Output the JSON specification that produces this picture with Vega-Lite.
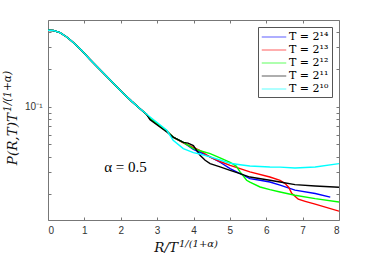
{
  "$schema": "https://vega.github.io/schema/vega-lite/v6.json",
  "width": 291,
  "height": 200,
  "autosize": {"type": "none"},
  "padding": {"left": 48, "top": 20, "right": 35, "bottom": 37},
  "background": "white",
  "config": {
    "view": {"stroke": "#777", "strokeWidth": 1},
    "axis": {"grid": false, "domainColor": "#777", "tickColor": "#777", "labelColor": "#333", "titleColor": "#111"}
  },
  "datasets": {
    "curves": [
      {"T": "T = 2¹⁴", "x": 0, "y": 0.4116}, {"T": "T = 2¹⁴", "x": 0.146, "y": 0.409}, {"T": "T = 2¹⁴", "x": 0.33, "y": 0.394}, {"T": "T = 2¹⁴", "x": 0.514, "y": 0.363}, {"T": "T = 2¹⁴", "x": 0.696, "y": 0.328}, {"T": "T = 2¹⁴", "x": 0.927, "y": 0.283}, {"T": "T = 2¹⁴", "x": 1.155, "y": 0.24}, {"T": "T = 2¹⁴", "x": 1.384, "y": 0.205}, {"T": "T = 2¹⁴", "x": 1.615, "y": 0.175}, {"T": "T = 2¹⁴", "x": 1.843, "y": 0.15}, {"T": "T = 2¹⁴", "x": 2.072, "y": 0.128}, {"T": "T = 2¹⁴", "x": 2.303, "y": 0.1107}, {"T": "T = 2¹⁴", "x": 2.531, "y": 0.0967}, {"T": "T = 2¹⁴", "x": 2.715, "y": 0.0868},
      {"T": "T = 2¹⁴", "x": 2.806, "y": 0.0805}, {"T": "T = 2¹⁴", "x": 3.266, "y": 0.064}, {"T": "T = 2¹⁴", "x": 3.44, "y": 0.0573}, {"T": "T = 2¹⁴", "x": 3.72, "y": 0.052}, {"T": "T = 2¹⁴", "x": 3.997, "y": 0.0457}, {"T": "T = 2¹⁴", "x": 4.18, "y": 0.0433}, {"T": "T = 2¹⁴", "x": 4.457, "y": 0.0397}, {"T": "T = 2¹⁴", "x": 4.73, "y": 0.036}, {"T": "T = 2¹⁴", "x": 5.007, "y": 0.032}, {"T": "T = 2¹⁴", "x": 5.28, "y": 0.0292}, {"T": "T = 2¹⁴", "x": 5.55, "y": 0.0266}, {"T": "T = 2¹⁴", "x": 5.83, "y": 0.0258}, {"T": "T = 2¹⁴", "x": 6.1, "y": 0.025}, {"T": "T = 2¹⁴", "x": 6.38, "y": 0.0236}, {"T": "T = 2¹⁴", "x": 6.79, "y": 0.0215}, {"T": "T = 2¹⁴", "x": 7.345, "y": 0.0202}, {"T": "T = 2¹⁴", "x": 7.76, "y": 0.0189},

      {"T": "T = 2¹³", "x": 0, "y": 0.4116}, {"T": "T = 2¹³", "x": 0.146, "y": 0.409}, {"T": "T = 2¹³", "x": 0.33, "y": 0.394}, {"T": "T = 2¹³", "x": 0.514, "y": 0.363}, {"T": "T = 2¹³", "x": 0.696, "y": 0.328}, {"T": "T = 2¹³", "x": 0.927, "y": 0.283}, {"T": "T = 2¹³", "x": 1.155, "y": 0.24}, {"T": "T = 2¹³", "x": 1.384, "y": 0.205}, {"T": "T = 2¹³", "x": 1.615, "y": 0.175}, {"T": "T = 2¹³", "x": 1.843, "y": 0.15}, {"T": "T = 2¹³", "x": 2.072, "y": 0.128}, {"T": "T = 2¹³", "x": 2.303, "y": 0.1107}, {"T": "T = 2¹³", "x": 2.531, "y": 0.0967}, {"T": "T = 2¹³", "x": 2.715, "y": 0.0868},
      {"T": "T = 2¹³", "x": 2.806, "y": 0.0805}, {"T": "T = 2¹³", "x": 3.266, "y": 0.064}, {"T": "T = 2¹³", "x": 3.44, "y": 0.0573}, {"T": "T = 2¹³", "x": 3.72, "y": 0.0515}, {"T": "T = 2¹³", "x": 3.997, "y": 0.0474}, {"T": "T = 2¹³", "x": 4.18, "y": 0.0447}, {"T": "T = 2¹³", "x": 4.457, "y": 0.0395}, {"T": "T = 2¹³", "x": 4.73, "y": 0.0365}, {"T": "T = 2¹³", "x": 5.007, "y": 0.034}, {"T": "T = 2¹³", "x": 5.28, "y": 0.032}, {"T": "T = 2¹³", "x": 5.55, "y": 0.0301}, {"T": "T = 2¹³", "x": 6.1, "y": 0.0274}, {"T": "T = 2¹³", "x": 6.38, "y": 0.0258}, {"T": "T = 2¹³", "x": 6.52, "y": 0.0243}, {"T": "T = 2¹³", "x": 6.62, "y": 0.0226}, {"T": "T = 2¹³", "x": 6.7, "y": 0.0203}, {"T": "T = 2¹³", "x": 6.79, "y": 0.0192}, {"T": "T = 2¹³", "x": 6.88, "y": 0.0182}, {"T": "T = 2¹³", "x": 7.07, "y": 0.0175}, {"T": "T = 2¹³", "x": 7.345, "y": 0.0166}, {"T": "T = 2¹³", "x": 8.0, "y": 0.0146},

      {"T": "T = 2¹²", "x": 0, "y": 0.4116}, {"T": "T = 2¹²", "x": 0.146, "y": 0.409}, {"T": "T = 2¹²", "x": 0.33, "y": 0.394}, {"T": "T = 2¹²", "x": 0.514, "y": 0.363}, {"T": "T = 2¹²", "x": 0.696, "y": 0.328}, {"T": "T = 2¹²", "x": 0.927, "y": 0.283}, {"T": "T = 2¹²", "x": 1.155, "y": 0.24}, {"T": "T = 2¹²", "x": 1.384, "y": 0.205}, {"T": "T = 2¹²", "x": 1.615, "y": 0.175}, {"T": "T = 2¹²", "x": 1.843, "y": 0.15}, {"T": "T = 2¹²", "x": 2.072, "y": 0.128}, {"T": "T = 2¹²", "x": 2.303, "y": 0.1107}, {"T": "T = 2¹²", "x": 2.531, "y": 0.0967}, {"T": "T = 2¹²", "x": 2.715, "y": 0.0868},
      {"T": "T = 2¹²", "x": 2.806, "y": 0.0805}, {"T": "T = 2¹²", "x": 3.266, "y": 0.064}, {"T": "T = 2¹²", "x": 3.44, "y": 0.0573}, {"T": "T = 2¹²", "x": 3.72, "y": 0.052}, {"T": "T = 2¹²", "x": 3.997, "y": 0.0463}, {"T": "T = 2¹²", "x": 4.18, "y": 0.0445}, {"T": "T = 2¹²", "x": 4.457, "y": 0.0422}, {"T": "T = 2¹²", "x": 4.73, "y": 0.0391}, {"T": "T = 2¹²", "x": 5.007, "y": 0.036}, {"T": "T = 2¹²", "x": 5.18, "y": 0.0334}, {"T": "T = 2¹²", "x": 5.28, "y": 0.0301}, {"T": "T = 2¹²", "x": 5.46, "y": 0.0258}, {"T": "T = 2¹²", "x": 5.55, "y": 0.0249}, {"T": "T = 2¹²", "x": 5.83, "y": 0.0228}, {"T": "T = 2¹²", "x": 6.1, "y": 0.0217}, {"T": "T = 2¹²", "x": 6.38, "y": 0.0208}, {"T": "T = 2¹²", "x": 6.79, "y": 0.0196}, {"T": "T = 2¹²", "x": 7.345, "y": 0.0184}, {"T": "T = 2¹²", "x": 8.0, "y": 0.0173},

      {"T": "T = 2¹¹", "x": 0, "y": 0.4116}, {"T": "T = 2¹¹", "x": 0.146, "y": 0.409}, {"T": "T = 2¹¹", "x": 0.33, "y": 0.394}, {"T": "T = 2¹¹", "x": 0.514, "y": 0.363}, {"T": "T = 2¹¹", "x": 0.696, "y": 0.328}, {"T": "T = 2¹¹", "x": 0.927, "y": 0.283}, {"T": "T = 2¹¹", "x": 1.155, "y": 0.24}, {"T": "T = 2¹¹", "x": 1.384, "y": 0.205}, {"T": "T = 2¹¹", "x": 1.615, "y": 0.175}, {"T": "T = 2¹¹", "x": 1.843, "y": 0.15}, {"T": "T = 2¹¹", "x": 2.072, "y": 0.128}, {"T": "T = 2¹¹", "x": 2.303, "y": 0.1107}, {"T": "T = 2¹¹", "x": 2.531, "y": 0.0967}, {"T": "T = 2¹¹", "x": 2.715, "y": 0.0868},
      {"T": "T = 2¹¹", "x": 2.806, "y": 0.079}, {"T": "T = 2¹¹", "x": 3.266, "y": 0.0629}, {"T": "T = 2¹¹", "x": 3.44, "y": 0.0573}, {"T": "T = 2¹¹", "x": 3.72, "y": 0.052}, {"T": "T = 2¹¹", "x": 3.85, "y": 0.0512}, {"T": "T = 2¹¹", "x": 3.997, "y": 0.049}, {"T": "T = 2¹¹", "x": 4.18, "y": 0.0409}, {"T": "T = 2¹¹", "x": 4.32, "y": 0.0373}, {"T": "T = 2¹¹", "x": 4.457, "y": 0.0351}, {"T": "T = 2¹¹", "x": 4.73, "y": 0.033}, {"T": "T = 2¹¹", "x": 5.007, "y": 0.031}, {"T": "T = 2¹¹", "x": 5.28, "y": 0.0292}, {"T": "T = 2¹¹", "x": 5.55, "y": 0.0274}, {"T": "T = 2¹¹", "x": 6.1, "y": 0.0258}, {"T": "T = 2¹¹", "x": 6.38, "y": 0.025}, {"T": "T = 2¹¹", "x": 6.79, "y": 0.0238}, {"T": "T = 2¹¹", "x": 7.345, "y": 0.0232}, {"T": "T = 2¹¹", "x": 8.0, "y": 0.0227},

      {"T": "T = 2¹⁰", "x": 0, "y": 0.4116}, {"T": "T = 2¹⁰", "x": 0.146, "y": 0.409}, {"T": "T = 2¹⁰", "x": 0.33, "y": 0.394}, {"T": "T = 2¹⁰", "x": 0.514, "y": 0.363}, {"T": "T = 2¹⁰", "x": 0.696, "y": 0.328}, {"T": "T = 2¹⁰", "x": 0.927, "y": 0.283}, {"T": "T = 2¹⁰", "x": 1.155, "y": 0.24}, {"T": "T = 2¹⁰", "x": 1.384, "y": 0.205}, {"T": "T = 2¹⁰", "x": 1.615, "y": 0.175}, {"T": "T = 2¹⁰", "x": 1.843, "y": 0.15}, {"T": "T = 2¹⁰", "x": 2.072, "y": 0.128}, {"T": "T = 2¹⁰", "x": 2.303, "y": 0.1107}, {"T": "T = 2¹⁰", "x": 2.531, "y": 0.0967}, {"T": "T = 2¹⁰", "x": 2.715, "y": 0.0872},
      {"T": "T = 2¹⁰", "x": 2.806, "y": 0.0829}, {"T": "T = 2¹⁰", "x": 3.266, "y": 0.0649}, {"T": "T = 2¹⁰", "x": 3.44, "y": 0.054}, {"T": "T = 2¹⁰", "x": 3.72, "y": 0.0463}, {"T": "T = 2¹⁰", "x": 3.997, "y": 0.043}, {"T": "T = 2¹⁰", "x": 4.18, "y": 0.0419}, {"T": "T = 2¹⁰", "x": 4.457, "y": 0.0397}, {"T": "T = 2¹⁰", "x": 4.73, "y": 0.0375}, {"T": "T = 2¹⁰", "x": 5.007, "y": 0.0353}, {"T": "T = 2¹⁰", "x": 5.28, "y": 0.0344}, {"T": "T = 2¹⁰", "x": 5.55, "y": 0.0336}, {"T": "T = 2¹⁰", "x": 6.1, "y": 0.033}, {"T": "T = 2¹⁰", "x": 6.38, "y": 0.0329}, {"T": "T = 2¹⁰", "x": 6.79, "y": 0.0324}, {"T": "T = 2¹⁰", "x": 7.345, "y": 0.033}, {"T": "T = 2¹⁰", "x": 8.0, "y": 0.0351}
    ],
    "note": [{"x": 2.13, "y": 0.033, "label": "α = 0.5"}],
    "titles": [
      {"role": "xmain", "x": 3.574, "y": 0.0074, "label": "R/T"},
      {"role": "xsup", "x": 3.6, "y": 0.0079, "label": "1/(1+α)"},
      {"role": "ymain", "x": -0.962, "y": 0.0892, "label": "P(R,T)T"},
      {"role": "ysup", "x": -1.1, "y": 0.091, "label": "1/(1+α)"}
    ]
  },
  "layer": [
    {
      "data": {"name": "curves"},
      "mark": {"type": "line", "clip": true, "interpolate": "linear"},
      "encoding": {
        "x": {"field": "x", "type": "quantitative", "scale": {"domain": [0, 8], "nice": false, "zero": false},
          "axis": {"orient": "bottom", "values": [0, 1, 2, 3, 4, 5, 6, 7, 8], "format": "d", "tickSize": -3, "labelPadding": 8, "labelFont": "Liberation Sans", "labelFontSize": 10, "domain": false, "title": null}},
        "y": {"field": "y", "type": "quantitative", "scale": {"type": "log", "domain": [0.0124, 0.497], "nice": false},
          "axis": {"orient": "left", "values": [0.02, 0.03, 0.04, 0.05, 0.06, 0.07, 0.08, 0.09, 0.1, 0.2, 0.3, 0.4], "labelExpr": "datum.value == 0.1 ? '10⁻¹' : ''", "tickSize": -3, "labelPadding": 9, "labelFont": "Liberation Sans", "labelFontSize": 10, "domain": false, "title": null}},
        "color": {"field": "T", "type": "nominal",
          "scale": {"domain": ["T = 2¹⁴", "T = 2¹³", "T = 2¹²", "T = 2¹¹", "T = 2¹⁰"], "range": ["#0000ff", "#ff0000", "#00ff00", "#000000", "#00ffff"]},
          "legend": {"title": null, "orient": "none", "legendX": 210, "legendY": 7, "fillColor": "white", "strokeColor": "#555", "padding": 3,
            "symbolType": "M-2,0H2", "symbolSize": 150, "symbolStrokeWidth": 1.5, "symbolOpacity": 0.45, "symbolOffset": 6,
            "labelFont": "DejaVu Serif", "labelFontSize": 11, "labelColor": "#000", "labelOffset": 8, "rowPadding": 1}},
        "strokeWidth": {"field": "T", "type": "nominal", "scale": {"domain": ["T = 2¹⁴", "T = 2¹³", "T = 2¹²", "T = 2¹¹", "T = 2¹⁰"], "range": [1.4, 1.4, 1.3, 1, 1]}, "legend": null}
      }
    },
    {
      "data": {"name": "note"},
      "mark": {"type": "text", "font": "Liberation Serif", "fontSize": 15, "color": "#000", "align": "center", "baseline": "middle"},
      "encoding": {
        "x": {"field": "x", "type": "quantitative", "axis": {"orient": "top", "values": [0, 1, 2, 3, 4, 5, 6, 7, 8], "labels": false, "tickSize": -3, "domain": false, "title": null}},
        "y": {"field": "y", "type": "quantitative", "axis": {"orient": "right", "values": [0.02, 0.03, 0.04, 0.05, 0.06, 0.07, 0.08, 0.09, 0.1, 0.2, 0.3, 0.4], "labels": false, "tickSize": -3, "domain": false, "title": null}},
        "text": {"field": "label"}
      }
    },
    {
      "data": {"name": "titles"},
      "transform": [{"filter": "datum.role == 'xmain'"}],
      "mark": {"type": "text", "font": "DejaVu Serif", "fontStyle": "italic", "fontSize": 13.5, "color": "#111", "align": "right", "baseline": "middle", "clip": false},
      "encoding": {"x": {"field": "x", "type": "quantitative", "axis": null}, "y": {"field": "y", "type": "quantitative", "axis": null}, "text": {"field": "label"}}
    },
    {
      "data": {"name": "titles"},
      "transform": [{"filter": "datum.role == 'xsup'"}],
      "mark": {"type": "text", "font": "DejaVu Serif", "fontStyle": "italic", "fontSize": 10, "color": "#111", "align": "left", "baseline": "middle", "clip": false},
      "encoding": {"x": {"field": "x", "type": "quantitative", "axis": null}, "y": {"field": "y", "type": "quantitative", "axis": null}, "text": {"field": "label"}}
    },
    {
      "data": {"name": "titles"},
      "transform": [{"filter": "datum.role == 'ymain'"}],
      "mark": {"type": "text", "font": "DejaVu Serif", "fontStyle": "italic", "fontSize": 13.5, "color": "#111", "align": "right", "baseline": "middle", "angle": 270, "clip": false},
      "encoding": {"x": {"field": "x", "type": "quantitative", "axis": null}, "y": {"field": "y", "type": "quantitative", "axis": null}, "text": {"field": "label"}}
    },
    {
      "data": {"name": "titles"},
      "transform": [{"filter": "datum.role == 'ysup'"}],
      "mark": {"type": "text", "font": "DejaVu Serif", "fontStyle": "italic", "fontSize": 10.5, "color": "#111", "align": "left", "baseline": "middle", "angle": 270, "clip": false},
      "encoding": {"x": {"field": "x", "type": "quantitative", "axis": null}, "y": {"field": "y", "type": "quantitative", "axis": null}, "text": {"field": "label"}}
    }
  ],
  "resolve": {"axis": {"x": "independent", "y": "independent"}}
}
